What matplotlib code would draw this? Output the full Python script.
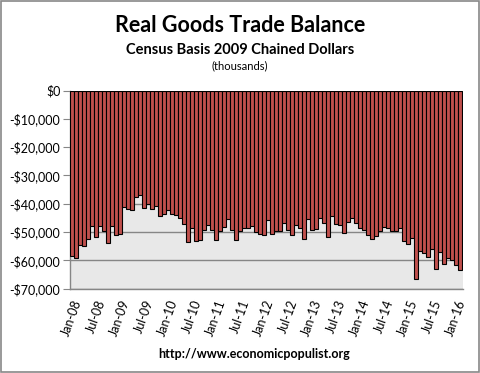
import matplotlib
matplotlib.use("Agg")
import matplotlib.pyplot as plt
import numpy as np

plt.rcParams['font.family'] = ['Lato', 'DejaVu Sans']

# Monthly real goods trade balance, Jan-2008 .. Feb-2016 (thousands, 2009 chained $)
balance = [
    -58400, -59300, -54700, -54900, -52500, -47900, -51800, -47900, -49700, -53900, -47900, -51000,
    -50600, -41200, -41900, -42200, -37500, -36900, -41500, -40200, -41800, -40700, -44200, -43700,
    -42300, -43600, -43900, -44900, -47100, -53500, -48600, -53200, -52900, -49200, -47700, -49400,
    -52800, -49700, -48100, -45300, -49300, -52800, -49600, -48600, -48600, -48000, -49900, -50800,
    -50900, -45900, -50600, -49500, -49500, -46800, -49200, -51000, -47700, -48600, -52500, -45400,
    -49200, -48900, -45000, -46800, -51800, -44400, -47100, -47400, -50400, -46500, -45000, -46800,
    -48600, -49400, -51000, -52500, -51500, -49800, -48300, -48600, -49800, -49800, -48600, -53300,
    -54300, -52100, -66800, -56900, -57300, -58700, -56100, -63200, -57100, -61300, -59300, -59900,
    -61700, -63500,
]
tick_labels = ['Jan-08', 'Jul-08', 'Jan-09', 'Jul-09', 'Jan-10', 'Jul-10', 'Jan-11', 'Jul-11',
               'Jan-12', 'Jul-12', 'Jan-13', 'Jul-13', 'Jan-14', 'Jul-14', 'Jan-15', 'Jul-15', 'Jan-16']
y_ticks = [0, -10000, -20000, -30000, -40000, -50000, -60000, -70000]
y_labels = ['$0', '-$10,000', '-$20,000', '-$30,000', '-$40,000', '-$50,000', '-$60,000', '-$70,000']

fig = plt.figure(figsize=(4.8, 3.73), dpi=100)
ax = fig.add_axes([70/480, 1-288.5/373, 393/480, (288.5-90.7)/373])
ax.set_facecolor('#e8e8e8')

x = np.arange(len(balance))
ax.bar(x, balance, width=1.0, color='#c0504d', edgecolor='black', linewidth=0.8, zorder=3)

ax.set_ylim(-70000, 0)
ax.set_xlim(-0.5, len(balance) - 0.25)
ax.set_yticks(y_ticks)
ax.set_yticklabels(y_labels, fontsize=9)
ax.yaxis.grid(True, color='#868686', linewidth=1.0, zorder=1)
ax.set_axisbelow(True)

ax.set_xticks(np.arange(0, len(balance), 6))
ax.set_xticklabels(tick_labels, rotation=70, ha='right', rotation_mode='anchor', fontsize=9)
ax.tick_params(axis='x', length=0, pad=7)
ax.tick_params(axis='y', length=5, color='#868686', pad=2)

for s in ['top', 'right']:
    ax.spines[s].set_visible(False)
for s in ['left', 'bottom']:
    ax.spines[s].set_color('#868686')
    ax.spines[s].set_linewidth(1.0)

fig.text(0.5, 1-25/373, 'Real Goods Trade Balance', ha='center', va='center', fontsize=15.5, fontweight='bold')
fig.text(0.5, 1-50/373, 'Census Basis 2009 Chained Dollars', ha='center', va='center', fontsize=10.5, fontweight='bold')
fig.text(0.5, 1-66/373, '(thousands)', ha='center', va='center', fontsize=8)
fig.text(254/480, 1-354/373, 'http://www.economicpopulist.org', ha='center', va='center', fontsize=9, fontweight='bold')

# outer border
fig.patches.append(plt.Rectangle((0.002, 0.003), 0.996, 0.994, transform=fig.transFigure,
                                 fill=False, edgecolor='#888888', linewidth=1.2))

fig.savefig('out.png', dpi=100)
